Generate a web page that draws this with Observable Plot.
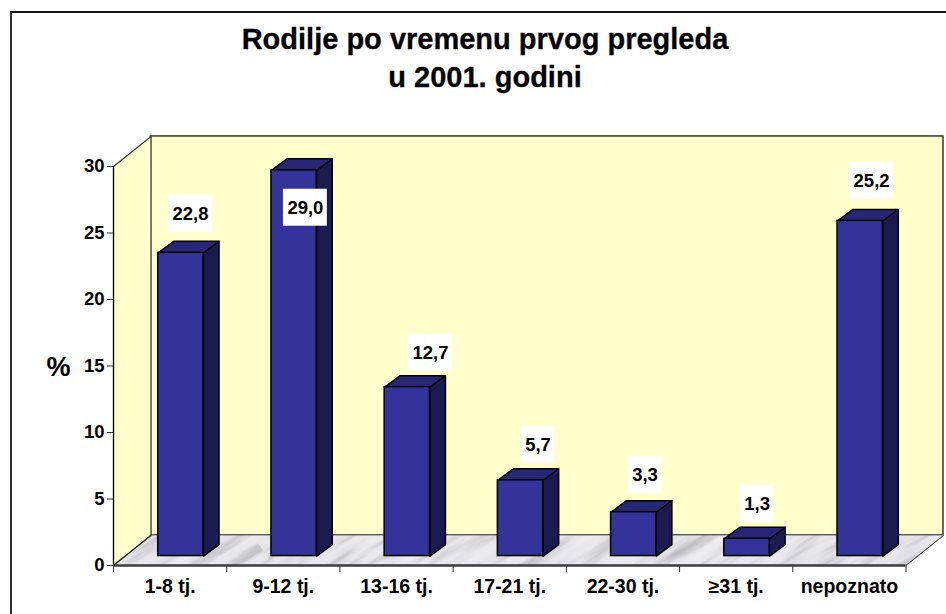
<!DOCTYPE html>
<html>
<head>
<meta charset="utf-8">
<script src="https://cdn.jsdelivr.net/npm/d3@7"></script>
<script src="https://cdn.jsdelivr.net/npm/@observablehq/plot@0.6"></script>
<style>
  html, body { margin: 0; padding: 0; background: #fff; overflow: hidden; }
  body { position: relative; width: 946px; height: 614px; font-family: "Liberation Sans", Arial, sans-serif; }
  #frame { position: absolute; left: 9.5px; top: 10.5px; right: 0; bottom: 0; border-left: 2px solid #333; border-top: 2px solid #111; pointer-events: none; }
  #title { box-sizing: border-box; height: 130px; padding: 20px 0 0 24px; text-align: center; font-size: 29px; line-height: 38px; font-weight: bold; color: #000; -webkit-text-stroke: 0.3px #000; }
  svg { display: block; }
</style>
</head>
<body>
<div id="frame"></div>
<div id="title">Rodilje po vremenu prvog pregleda<br>u 2001. godini</div>
<div id="chart"></div>
<script>
const categories = ["1-8 tj.", "9-12 tj.", "13-16 tj.", "17-21 tj.", "22-30 tj.", "≥31 tj.", "nepoznato"];
const values = [22.8, 29.0, 12.7, 5.7, 3.3, 1.3, 25.2];
const yTicks = [0, 5, 10, 15, 20, 25, 30];

// chart-space constants, in scale units
const n = categories.length, yMax = 30;
const depthX = 0.331, depthY = 2.26;          // box depth
const barLeft = 0.395, barW = 0.4, barBase = 0.71, barDX = 0.137, barDY = 0.865;
const nudgeX = [0.18, 0.195, 0.30, 0.25, 0.195, 0.185, 0.196];
const nudgeY = [3.64, -2.1, 3.29, 3.37, 3.52, 3.34, 3.7];

const poly = pts => pts.concat([pts[0]]).map(([x, y]) => ({x, y}));
const many = f => values.flatMap((v, i) => f(v, i).map(d => ({...d, i})));

const leftWall = poly([[0, 0], [depthX, depthY], [depthX, yMax + depthY], [0, yMax]]);
const floor = poly([[0, 0], [n, 0], [n + depthX, depthY], [depthX, depthY]]);

const fronts = values.map((v, i) => ({x1: i + barLeft, x2: i + barLeft + barW, y1: barBase, y2: barBase + v}));
const sides = many((v, i) => {
  const x = i + barLeft + barW, t = barBase + v;
  return poly([[x, barBase], [x + barDX, barBase + barDY], [x + barDX, t + barDY], [x, t]]);
});
const tops = many((v, i) => {
  const x = i + barLeft, t = barBase + v;
  return poly([[x, t], [x + barW, t], [x + barW + barDX, t + barDY], [x + barDX, t + barDY]]);
});

const labels = values.map((v, i) => {
  const text = v.toFixed(1).replace(".", ",");
  const x = i + 0.5 + nudgeX[i], y = v + nudgeY[i];
  const hw = text.length > 3 ? 0.194 : 0.146;
  return {text, x, y, x1: x - hw, x2: x + hw, y1: y - 1.39, y2: y + 1.39};
});

const wall = "#FFFFCC", edge = "#333";
const font = {fontSize: 18.5, fontWeight: "bold", fill: "#000"};

const plot = Plot.plot({
  width: 946, height: 484,
  marginLeft: 113, marginRight: 40.5, marginTop: 36, marginBottom: 49,
  style: {background: "transparent", fontFamily: "'Liberation Sans', Arial, sans-serif", overflow: "visible"},
  x: {domain: [0, n], axis: null},
  y: {domain: [0, yMax], axis: null},
  marks: [
    Plot.rect([{}], {x1: depthX, x2: n + depthX, y1: depthY, y2: yMax + depthY, fill: wall, stroke: edge, strokeWidth: 1.5}),
    Plot.line(leftWall, {x: "x", y: "y", fill: wall, stroke: edge, strokeWidth: 1.2}),
    Plot.line(floor, {x: "x", y: "y", fill: "url(#marble)", stroke: "none"}),
    Plot.line(poly([[depthX, depthY], [0, 0]]), {x: "x", y: "y", stroke: "#222", strokeWidth: 1.2}),
    Plot.line(poly([[n, 0], [n + depthX, depthY]]), {x: "x", y: "y", stroke: "#555", strokeWidth: 1}),
    Plot.ruleX([0], {y1: 0, y2: yMax, stroke: "#000", strokeWidth: 1.2}),
    Plot.ruleY([0], {x1: 0, x2: n, stroke: "#3c3c3c", strokeWidth: 2.5}),
    Plot.axisY({ticks: yTicks, tickSize: 6, tickPadding: 3, stroke: "#333", ...font, label: null}),
    Plot.axisX({ticks: d3.range(n + 1), tickSize: 7, stroke: "#333", tickFormat: () => "", label: null}),
    Plot.axisX({ticks: d3.range(n).map(i => i + 0.5), tickSize: 0, tickPadding: 14, tickFormat: d => categories[d - 0.5], ...font, fontSize: 19.5, label: null}),
    Plot.text(["%"], {x: -0.485, y: 14.9, text: d => d, fontSize: 27, fontWeight: "bold", fill: "#000"}),
    Plot.line(sides, {x: "x", y: "y", z: "i", fill: "#1B1B52", stroke: "#000", strokeWidth: 1.5, strokeLinejoin: "round"}),
    Plot.line(tops, {x: "x", y: "y", z: "i", fill: "#272775", stroke: "#000", strokeWidth: 1.5, strokeLinejoin: "round"}),
    Plot.rect(fronts, {x1: "x1", x2: "x2", y1: "y1", y2: "y2", fill: "#333399", stroke: "#000", strokeWidth: 1.5}),
    Plot.rect(labels, {x1: "x1", x2: "x2", y1: "y1", y2: "y2", fill: "#fff"}),
    Plot.text(labels, {x: "x", y: "y", text: "text", ...font})
  ]
});

plot.insertAdjacentHTML("afterbegin", `
  <defs>
    <filter id="marbleNoise" x="0" y="0" width="100%" height="100%" color-interpolation-filters="sRGB">
      <feTurbulence type="fractalNoise" baseFrequency="0.012 0.09" numOctaves="4" seed="7"/>
      <feColorMatrix type="matrix" values="1 0 0 0 0  1 0 0 0 0  1 0 0 0 0  0 0 0 0 1"/>
      <feComponentTransfer>
        <feFuncR type="table" tableValues="0.68 0.74 0.8 0.87 0.91 0.92 0.93 0.94"/>
        <feFuncG type="table" tableValues="0.68 0.74 0.8 0.87 0.91 0.92 0.93 0.94"/>
        <feFuncB type="table" tableValues="0.7 0.76 0.82 0.89 0.93 0.94 0.95 0.96"/>
      </feComponentTransfer>
    </filter>
    <pattern id="marble" patternUnits="userSpaceOnUse" width="1400" height="400" patternTransform="rotate(-32)">
      <rect width="1400" height="400" filter="url(#marbleNoise)"/>
    </pattern>
  </defs>`);
document.getElementById("chart").appendChild(plot);
</script>
</body>
</html>
